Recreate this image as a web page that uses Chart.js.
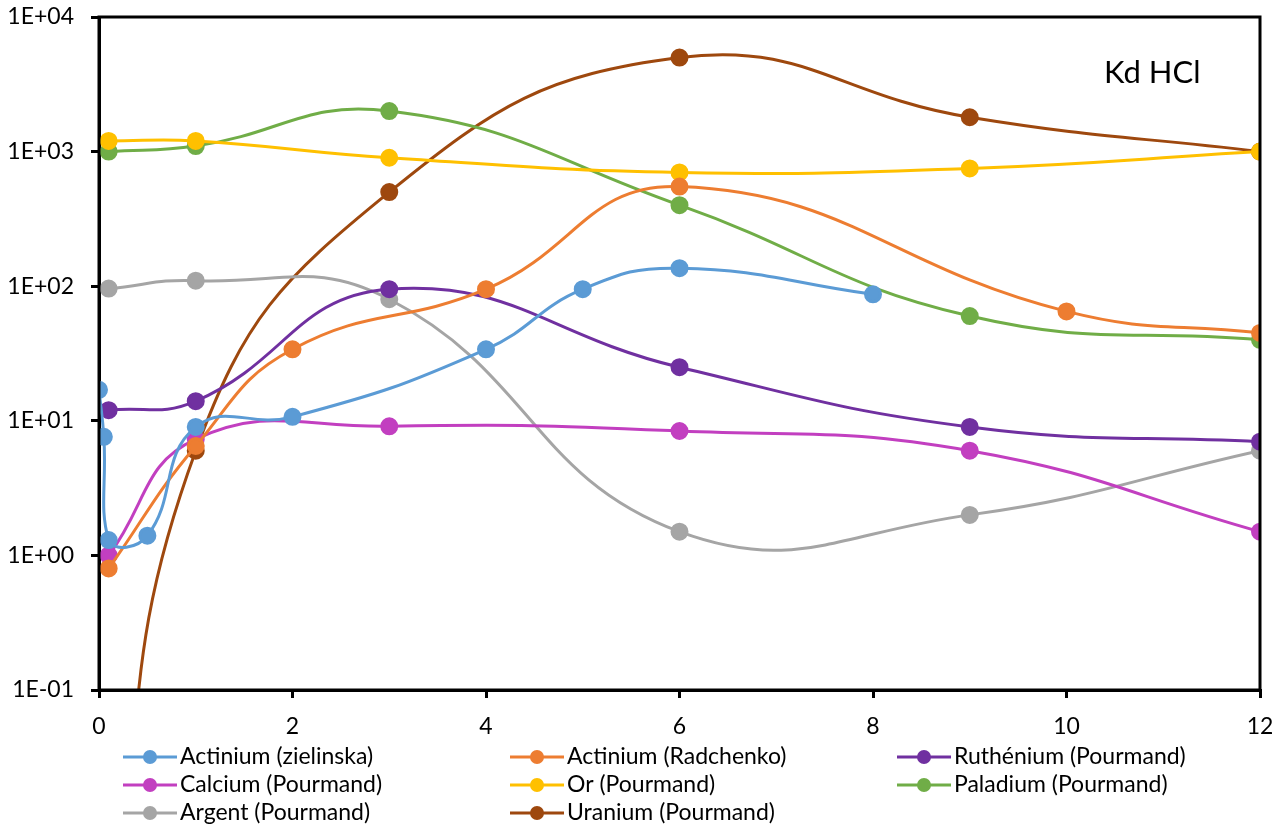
<!DOCTYPE html>
<html>
<head>
<meta charset="utf-8">
<script src="https://cdn.jsdelivr.net/npm/chart.js@4.4.1/dist/chart.umd.min.js"></script>
<style>
  html, body { margin: 0; padding: 0; background: #fff; }
  #wrap { width: 1272px; height: 827px; position: relative; }
</style>
</head>
<body>
<div id="wrap"><canvas id="kdChart"></canvas></div>
<script>
// Kd en milieu HCl, x = concentration HCl (M)
const xZielinska = [0, 0.05, 0.1, 0.5, 1, 2, 4, 5, 6, 8];
const kdZielinska = [17, 7.6, 1.3, 1.4, 9, 10.7, 34, 95, 136, 87];
const xRadchenko = [0.1, 1, 2, 4, 6, 10, 12];
const kdRadchenko = [0.8, 6.5, 34, 95, 550, 65, 45];
const xPourmand = [0.1, 1, 3, 6, 9, 12];
const kdRuthenium = [12, 14, 95, 25, 9, 7];
const kdCalcium = [1, 7.3, 9.1, 8.4, 6, 1.5];
const kdOr = [1200, 1200, 900, 700, 750, 1000];
const kdPaladium = [1000, 1100, 2000, 400, 60, 40];
const kdArgent = [96, 110, 80, 1.5, 2, 6];
const kdUranium = [0.001, 6, 500, 5000, 1800, 1000];
const yTicks = [0.1, 1, 10, 100, 1000, 10000];

const FONT = 'Lato, "Open Sans", sans-serif';

function pts(xs, ys) {
  return xs.map((x, i) => ({ x: x, y: ys[i] }));
}

function serie(label, color, xs, ys) {
  return {
    label: label,
    data: pts(xs, ys),
    borderColor: color,
    backgroundColor: color,
    borderWidth: 3,
    pointRadius: 7.5,
    pointHoverRadius: 7.5,
    showLine: true,
    tension: 0.45
  };
}

// legende sur 3 colonnes + titre dans la zone de tracé
const kdLegend = {
  id: 'kdLegend',
  afterDraw(chart) {
    const ctx = chart.ctx;
    const cols = [123, 510, 897];
    const rows = [757, 785, 813];
    ctx.save();
    chart.data.datasets.forEach((ds, i) => {
      const x = cols[i % 3];
      const y = rows[Math.floor(i / 3)];
      ctx.strokeStyle = ds.borderColor;
      ctx.fillStyle = ds.borderColor;
      ctx.lineWidth = 3;
      ctx.beginPath();
      ctx.moveTo(x, y);
      ctx.lineTo(x + 54, y);
      ctx.stroke();
      ctx.beginPath();
      ctx.arc(x + 27, y, 7, 0, Math.PI * 2);
      ctx.fill();
      ctx.fillStyle = '#000';
      ctx.font = '23px ' + FONT;
      ctx.textBaseline = 'middle';
      ctx.fillText(ds.label, x + 57, y);
    });
    ctx.font = '31px ' + FONT;
    ctx.fillStyle = '#000';
    ctx.textBaseline = 'middle';
    ctx.fillText('Kd HCl', 1104, 73);
    // cadre de la zone de tracé
    const a = chart.chartArea;
    ctx.strokeStyle = '#000';
    ctx.lineWidth = 3;
    ctx.strokeRect(a.left, a.top, a.right - a.left, a.bottom - a.top);
    ctx.restore();
  }
};

new Chart(document.getElementById('kdChart'), {
  type: 'scatter',
  data: {
    datasets: [
      serie('Actinium (zielinska)', '#5B9BD5', xZielinska, kdZielinska),
      serie('Actinium (Radchenko)', '#ED7D31', xRadchenko, kdRadchenko),
      serie('Ruthénium (Pourmand)', '#7030A0', xPourmand, kdRuthenium),
      serie('Calcium (Pourmand)', '#C23FC0', xPourmand, kdCalcium),
      serie('Or (Pourmand)', '#FFC000', xPourmand, kdOr),
      serie('Paladium (Pourmand)', '#70AD47', xPourmand, kdPaladium),
      serie('Argent (Pourmand)', '#A5A5A5', xPourmand, kdArgent),
      serie('Uranium (Pourmand)', '#9E480E', xPourmand, kdUranium)
    ]
  },
  options: {
    responsive: true,
    maintainAspectRatio: false,
    animation: false,
    layout: { padding: { top: 17, right: 12, left: 0, bottom: 0 } },
    plugins: {
      legend: { display: false },
      tooltip: { enabled: false }
    },
    scales: {
      x: {
        type: 'linear',
        min: 0,
        max: 12,
        afterFit: s => { s.height = 137; s.paddingLeft = 0; s.paddingRight = 0; },
        ticks: { stepSize: 2, color: '#000', font: { family: FONT, size: 23 }, padding: 15 },
        grid: { drawOnChartArea: false, color: '#000', lineWidth: 3, tickLength: 8 },
        border: { color: '#000', width: 3 }
      },
      y: {
        type: 'logarithmic',
        min: 0.1,
        max: 10000,
        afterFit: s => { s.width = 99; s.paddingTop = 0; s.paddingBottom = 0; },
        afterBuildTicks: s => { s.ticks = yTicks.map(v => ({ value: v })); },
        ticks: {
          color: '#000',
          font: { family: FONT, size: 23 },
          padding: 17,
          callback: v => {
            const e = Math.round(Math.log10(v));
            return '1E' + (e < 0 ? '-' : '+') + String(Math.abs(e)).padStart(2, '0');
          }
        },
        grid: { drawOnChartArea: false, color: '#000', lineWidth: 3, tickLength: 8 },
        border: { color: '#000', width: 3 }
      }
    }
  },
  plugins: [kdLegend]
});
</script>
</body>
</html>
